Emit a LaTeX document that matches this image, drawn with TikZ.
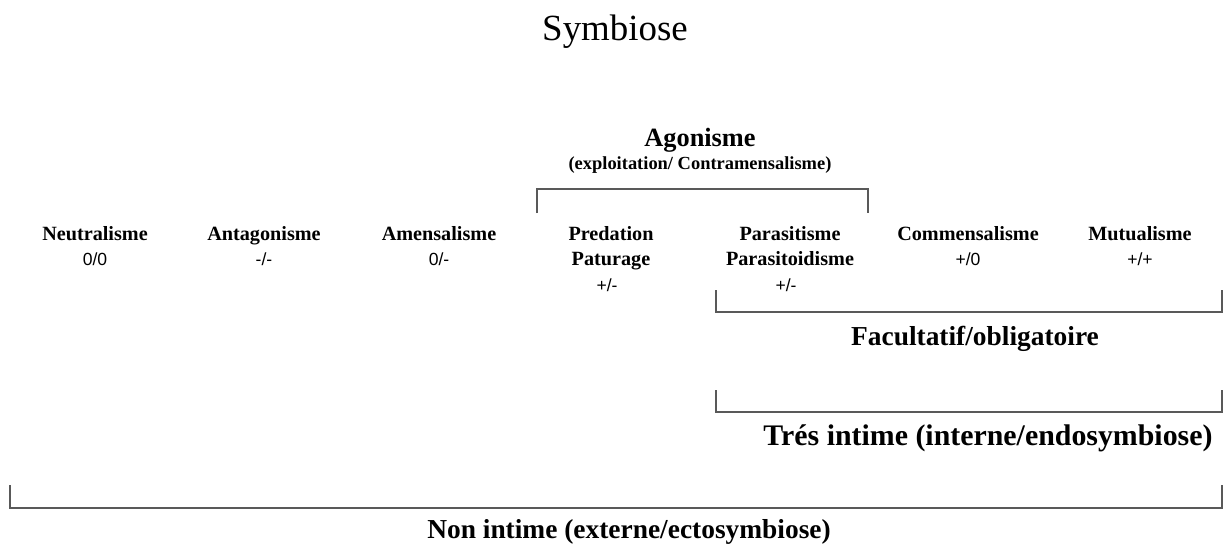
\documentclass[tikz,border=0pt]{standalone}
\usepackage{fontspec}
\setmainfont{Liberation Serif}
\setsansfont{Liberation Sans}
\tikzset{
	rel/.style={font=\fontsize{11.5}{14}\selectfont\bfseries, anchor=base, inner sep=0pt},
	sgn/.style={font=\sffamily\fontsize{10}{12}\selectfont, anchor=base, inner sep=0pt},
	lbl/.style={font=\fontsize{15.6}{18}\selectfont\bfseries, anchor=base, inner sep=0pt},
	brk/.style={draw=black!65, line width=1.1pt}
}
\begin{document}
\begin{tikzpicture}[x=0.02cm,y=-0.02cm]
\useasboundingbox (0,0) rectangle (1226,545);
%\draw [help lines,black!20!white] (0,0) grid[step=50] (1226,545);

\node[anchor=base, inner sep=0pt, font=\fontsize{21}{24}\selectfont] (title) at (615,40) {Symbiose};

\node[lbl, font=\fontsize{15}{18}\selectfont\bfseries] (agon) at (700,146) {Agonisme};
\node[anchor=base, inner sep=0pt, font=\fontsize{10.5}{12}\selectfont\bfseries] (agonsub) at (700,169) {(exploitation/ Contramensalisme)};

\foreach \n/\x/\t in {neu/95/Neutralisme, ant/264/Antagonisme, ame/439/Amensalisme, pre/611/Predation, par/790/Parasitisme, com/968/Commensalisme, mut/1140/Mutualisme}
	\node[rel] (\n) at (\x,240) {\t};

\node[rel] (pre2) at (611,265) {Paturage};
\node[rel] (par2) at (790,265) {Parasitoidisme};

\node[sgn] (neus) at (95,265) {0/0};
\node[sgn] (ants) at (264,265) {-/-};
\node[sgn] (ames) at (439,265) {0/-};
\node[sgn] (coms) at (968,265) {+/0};
\node[sgn] (muts) at (1140,265) {+/+};
\node[sgn] (pres) at (607,291) {+/-};
\node[sgn] (pars) at (786,291) {+/-};

% brackets
\coordinate (ag1) at (537,213);
\coordinate (ag2) at (868,213);
\draw[brk] (ag1) -- ++(0,-24) -| (ag2);

\coordinate (fa1) at (716,290);
\coordinate (fa2) at (1222,290);
\draw[brk] (fa1) -- ++(0,22) -| (fa2);
\node[lbl] (fac) at (975,345) {Facultatif/obligatoire};

\coordinate (tr1) at (716,390);
\coordinate (tr2) at (1222,390);
\draw[brk] (tr1) -- ++(0,22) -| (tr2);
\node[lbl, font=\fontsize{17}{20}\selectfont\bfseries] (tres) at (988,445) {Trés intime (interne/endosymbiose)};

\coordinate (no1) at (10,485);
\coordinate (no2) at (1222,485);
\draw[brk] (no1) -- ++(0,23) -| (no2);
\node[lbl] (non) at (629,538) {Non intime (externe/ectosymbiose)};

\end{tikzpicture}
\end{document}
